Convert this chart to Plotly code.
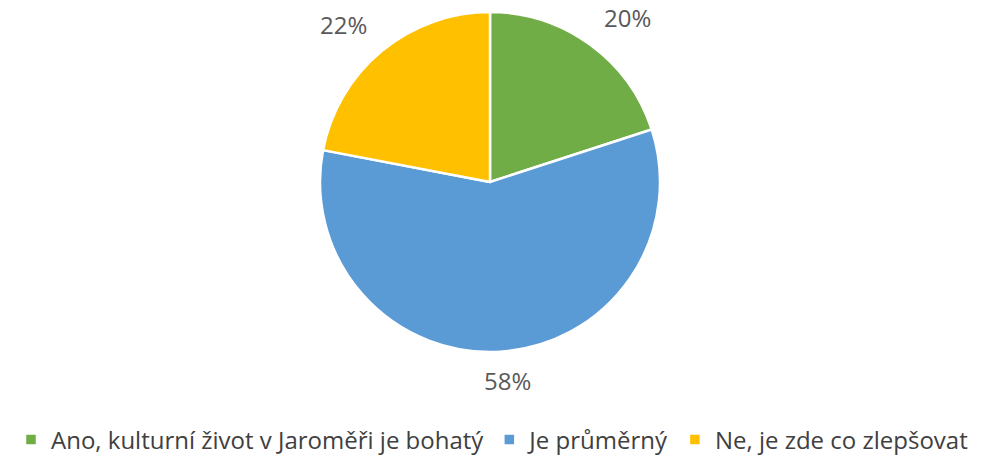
import math
import plotly.graph_objects as go

categories = ["Ano, kulturní život v Jaroměři je bohatý", "Je průměrný", "Ne, je zde co zlepšovat"]
values = [20, 58, 22]
colors = ["#70AD47", "#5B9BD5", "#FFC000"]

W, H = 984, 457
ML, MR, MT, MB = 0, 4, 12, 105
PW, PH = W - ML - MR, H - MT - MB
R = min(PW, PH) / 2
CX, CY = ML + PW / 2, MT + PH / 2
FONT = "'Open Sans', sans-serif"

fig = go.Figure(go.Pie(
    labels=categories, values=values, sort=False, direction="clockwise", rotation=0,
    marker=dict(colors=colors, line=dict(color="white", width=2.5)),
    textinfo="none", hoverinfo="label+percent",
))

total = sum(values)
cum = 0
annotations = []
for v in values:
    mid = (cum + v / 2) / total * 2 * math.pi
    cum += v
    dx, dy = math.sin(mid), -math.cos(mid)
    rr = R + 16
    px, py = CX + rr * dx, CY + rr * dy
    xa = "left" if dx > 0.3 else ("right" if dx < -0.3 else "center")
    ya = "bottom" if dy < 0 else "top"
    annotations.append(dict(
        x=(px - ML) / PW, y=(H - MB - py) / PH, xref="paper", yref="paper",
        text=f"{round(v / total * 100)}%", showarrow=False, xanchor=xa, yanchor=ya,
        xshift=4 if xa == "left" else (-3 if xa == "right" else 6),
        yshift=-3 if ya == "bottom" else 5, borderpad=0,
        font=dict(size=24, color="#595959", family=FONT),
    ))

fig.update_layout(
    width=W, height=H, margin=dict(l=ML, r=MR, t=MT, b=MB, autoexpand=False),
    paper_bgcolor="white", plot_bgcolor="white",
    font=dict(family=FONT, size=24, color="#404040"),
    annotations=annotations,
    legend=dict(orientation="h", x=0.5, xanchor="center", xref="container",
                y=(H - 440) / H, yanchor="middle", yref="container",
                font=dict(size=24, color="#404040", family=FONT), itemclick=False),
)
fig.write_html("out.html", config={"displayModeBar": False},
               post_script="document.body.style.margin='0';document.body.style.overflow='hidden';")
